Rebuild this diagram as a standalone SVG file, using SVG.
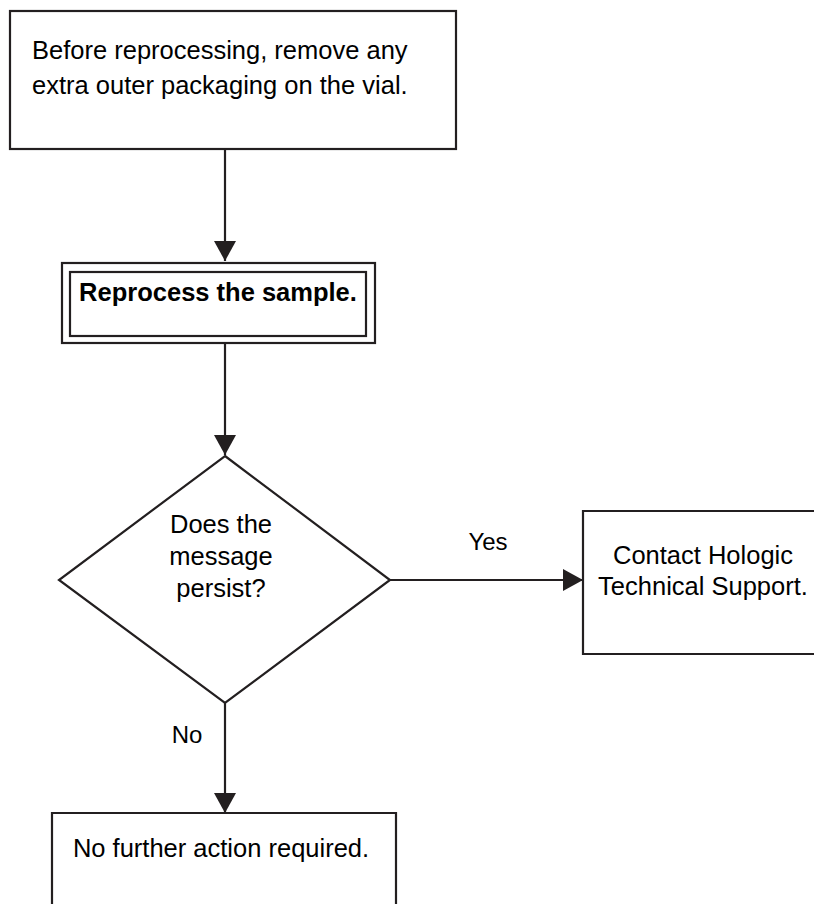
<svg xmlns="http://www.w3.org/2000/svg" width="814" height="904" viewBox="0 0 814 904">
<defs>
<marker id="arr" markerWidth="20" markerHeight="22" refX="20" refY="11" orient="auto" markerUnits="userSpaceOnUse">
<path d="M0,0 L20,11 L0,22 Z" fill="#231f20"/>
</marker>
<style>
.box{fill:#fff;stroke:#231f20;stroke-width:2.2}
.ln{fill:none;stroke:#231f20;stroke-width:2.2}
text{font-family:"Liberation Sans",Arial,sans-serif;font-size:25.5px;fill:#000}
.b{font-weight:bold}
.c{text-anchor:middle}
</style>
</defs>
<rect width="814" height="904" fill="#fff"/>
<g id="connectors">
<line class="ln" x1="225" y1="149" x2="225" y2="261" marker-end="url(#arr)"/>
<line class="ln" x1="225" y1="343" x2="225" y2="455" marker-end="url(#arr)"/>
<line class="ln" x1="390" y1="580" x2="583" y2="580" marker-end="url(#arr)"/>
<line class="ln" x1="225" y1="703" x2="225" y2="813" marker-end="url(#arr)"/>
<text x="488" y="550" class="c" style="font-size:24px">Yes</text>
<text x="187" y="743" class="c" style="font-size:24px">No</text>
</g>
<g id="n1">
<rect class="box" x="10" y="11" width="446" height="138"/>
<text x="32" y="59">Before reprocessing, remove any</text>
<text x="32" y="94">extra outer packaging on the vial.</text>
</g>
<g id="n2">
<rect class="box" x="62" y="263" width="313" height="80"/>
<rect class="box" x="70" y="272" width="296" height="64"/>
<text x="218" y="301" class="b c">Reprocess the sample.</text>
</g>
<g id="n3">
<polygon class="box" points="225,456 390,580 225,703 59,580"/>
<text x="221" y="533" class="c">Does the</text>
<text x="221" y="565" class="c">message</text>
<text x="221" y="597" class="c">persist?</text>
</g>
<g id="n4">
<path class="box" d="M816,511 H583 V654 H816"/>
<text x="703" y="564" class="c">Contact Hologic</text>
<text x="703" y="595" class="c">Technical Support.</text>
</g>
<g id="n5">
<path class="box" d="M52,906 V813 H396 V906"/>
<text x="221" y="857" class="c">No further action required.</text>
</g>
</svg>
